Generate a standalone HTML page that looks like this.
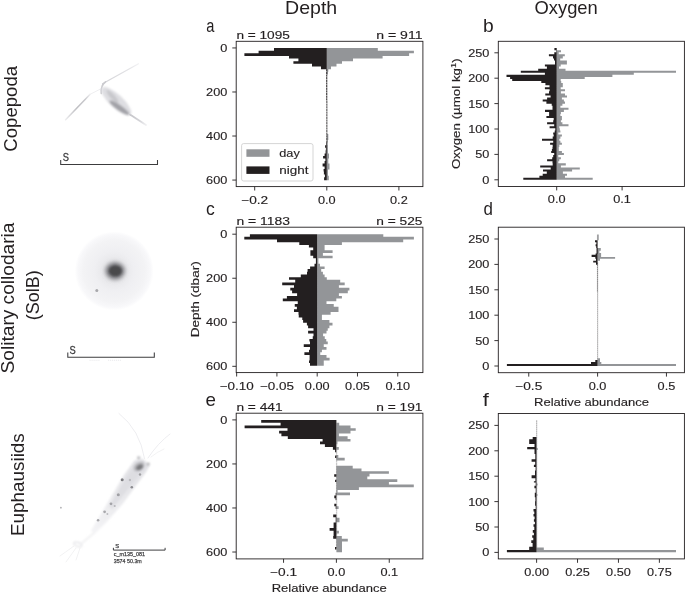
<!DOCTYPE html>
<html><head><meta charset="utf-8"><title>figure</title>
<style>html,body{margin:0;padding:0;background:#fff;}svg{display:block;}text{font-family:"Liberation Sans",sans-serif;}</style>
</head><body>
<svg width="685" height="592" viewBox="0 0 685 592">
<defs>
<radialGradient id="halo"><stop offset="0" stop-color="#d8d8d8"/><stop offset="0.55" stop-color="#ececec"/><stop offset="0.9" stop-color="#f4f4f4"/><stop offset="1" stop-color="#ffffff"/></radialGradient>
<radialGradient id="core"><stop offset="0" stop-color="#4a4a4a"/><stop offset="0.55" stop-color="#6a6a6a"/><stop offset="1" stop-color="#cfcfcf" stop-opacity="0"/></radialGradient>
<filter id="b1" x="-30%" y="-30%" width="160%" height="160%"><feGaussianBlur stdDeviation="1"/></filter>
<filter id="b2" x="-30%" y="-30%" width="160%" height="160%"><feGaussianBlur stdDeviation="2"/></filter>
<filter id="b05" x="-30%" y="-30%" width="160%" height="160%"><feGaussianBlur stdDeviation="0.6"/></filter>
<filter id="noop" x="0" y="0" width="685" height="592" filterUnits="userSpaceOnUse"><feOffset dx="0" dy="0"/></filter>
</defs>
<rect width="685" height="592" fill="#fff"/>
<g filter="url(#noop)">
<g id="bars-a">
<path d="M326.80,48.00H377.80V50.65H413.90V53.29H409.10V55.94H382.60V58.58H353.00V61.23H342.00V63.87H336.50V66.52H331.00V69.16H328.30V71.81H328.00V74.45H326.80ZM326.80,134.00H328.30V140.00H327.80V145.00H328.00V153.40H329.00V158.40H328.30V163.50H329.50V169.60H328.00V175.70H328.80V180.20H326.80Z" fill="#939598"/>
<path d="M326.80,48.00H274.00V50.65H258.60V53.29H244.40V55.94H289.00V58.58H298.40V61.23H293.40V63.87H312.00V66.52H321.00V69.16H326.80ZM326.80,142.20H326.10V145.30H325.10V147.80H325.90V150.30H325.60V153.40H324.60V155.90H323.10V158.40H325.40V161.00H324.60V163.50H322.60V166.50H324.60V169.10H323.60V171.60H323.90V174.60H324.90V177.20H324.10V180.20H326.80Z" fill="#231f20"/>
</g>
<g id="bars-c">
<path d="M317.20,234.15H383.30V236.84H413.90V239.52H403.20V242.21H341.90V244.89H324.60V247.58H324.60V250.27H332.60V252.95H322.90V255.64H332.60V258.32H318.40V261.01H318.40V263.70H320.00V266.38H324.60V269.07H321.20V271.75H322.90V274.44H324.60V277.13H326.80V279.81H340.20V282.50H344.70V285.18H338.90V287.87H349.40V290.56H347.80V293.24H338.90V295.93H341.90V298.61H336.30V301.30H326.50V303.99H333.75V306.67H338.50V309.36H338.50V312.04H330.60V314.73H321.90V317.42H321.90V320.10H329.40V322.79H332.50V325.47H329.40V328.16H327.75V330.85H326.50V333.53H323.10V336.22H324.75V338.90H326.25V341.59H327.75V344.28H323.75V346.96H326.50V349.65H321.90V352.33H320.25V355.02H326.50V357.71H329.60V360.39H323.75V363.08H323.75V365.76H317.20Z" fill="#939598"/>
<path d="M317.20,234.15H249.90V236.84H244.30V239.52H277.00V242.21H299.30V244.89H308.90V247.58H313.20V250.27H310.40V252.95H310.40V255.64H313.20V258.32H315.90V261.01H315.90V263.70H314.50V266.38H310.10V269.07H307.60V271.75H307.00V274.44H300.80V277.13H289.00V279.81H295.20V282.50H282.20V285.18H294.00V287.87H290.30V290.56H292.10V293.24H297.10V295.93H286.90V298.61H282.80V301.30H297.75V303.99H294.75V306.67H296.90V309.36H294.00V312.04H298.50V314.73H298.75V317.42H302.25V320.10H303.10V322.79H306.90V325.47H308.10V328.16H313.50V330.85H308.10V333.53H313.50V336.22H312.75V338.90H309.40V341.59H310.00V344.28H303.75V346.96H310.00V349.65H309.00V352.33H304.40V355.02H309.60V357.71H309.60V360.39H309.00V363.08H310.00V365.76H317.20Z" fill="#231f20"/>
</g>
<g id="bars-e">
<path d="M336.40,422.79H339.20V425.47H350.50V428.16H355.70V430.84H350.50V433.53H338.90V436.22H347.60V438.90H350.50V441.59H337.40V444.27H336.40ZM336.40,446.96H338.80V449.65H336.40ZM336.40,455.02H338.30V457.70H344.70V460.39H336.40ZM336.40,465.76H352.70V468.45H361.50V471.13H388.90V473.82H369.50V476.51H367.30V479.19H397.30V481.88H388.90V484.56H413.80V487.25H358.90V489.94H337.60V492.62H350.00V495.31H336.40ZM336.40,506.35H338.60V509.05H336.40ZM336.40,517.84H339.50V522.16H336.40ZM336.40,530.68H338.90V533.38H336.40ZM336.40,536.08H341.80V538.78H347.80V541.49H342.00V552.30H336.40Z" fill="#939598"/>
<path d="M336.40,420.10H261.20V422.79H280.60V425.47H244.60V428.16H287.50V430.84H279.10V433.53H281.40V436.22H287.80V438.90H322.60V441.59H320.00V444.27H324.90V446.96H332.90V449.65H335.10V452.33H336.40ZM336.40,455.60H335.10V457.90H336.40ZM336.40,474.30H334.20V476.80H336.40ZM336.40,479.80H335.10V482.00H336.40ZM336.40,492.84H335.70V495.54H334.30V498.24H335.60V500.27H336.40ZM336.40,503.65H334.30V506.35H335.70V509.05H336.40ZM336.40,514.46H333.20V517.16H335.70V522.57H333.60V527.97H329.60V530.68H333.60V536.08H333.20V538.78H336.40ZM336.40,546.89H335.00V549.59H336.40Z" fill="#231f20"/>
</g>
<g id="bars-b">
<path d="M556.70,48.10H556.90V50.16H561.00V52.22H558.70V54.27H564.80V56.33H562.80V58.39H560.20V60.45H566.90V62.51H566.90V64.56H560.70V66.62H559.00V68.68H565.50V70.74H676.00V72.80H633.80V74.85H612.40V76.91H584.70V78.97H560.70V81.03H561.20V83.09H562.80V85.14H562.80V87.20H560.70V89.26H565.00V91.32H560.90V93.38H565.00V95.43H567.00V97.49H561.90V99.55H563.90V101.61H565.00V103.67H562.40V105.72H560.40V107.78H568.50V109.84H563.90V111.90H560.90V113.96H560.40V116.01H561.90V118.07H561.90V120.13H560.90V122.19H562.40V124.25H568.50V126.30H559.30V128.36H559.80V130.42H560.40V132.48H558.30V134.54H561.90V136.59H560.40V138.65H559.30V140.71H560.40V142.77H561.90V144.83H559.30V146.88H558.80V148.94H558.80V151.00H561.90V153.06H563.90V155.12H558.30V157.17H560.90V159.23H559.30V161.29H558.30V163.35H565.80V165.41H560.90V167.46H579.80V169.52H572.10V171.58H562.90V173.64H567.00V175.70H565.00V177.75H592.70V179.81H556.70Z" fill="#939598"/>
<path d="M556.70,48.10H554.40V50.16H556.20V52.22H554.30V54.27H548.90V56.33H553.00V58.39H554.00V60.45H555.00V62.51H555.00V64.56H544.90V66.62H546.90V68.68H538.20V70.74H520.80V72.80H544.90V74.85H506.50V76.91H510.10V78.97H512.20V81.03H541.30V83.09H545.40V85.14H549.50V87.20H544.90V89.26H549.60V91.32H549.00V93.38H545.30V95.43H550.60V97.49H547.10V99.55H542.70V101.61H546.40V103.67H551.70V105.72H552.50V107.78H552.50V109.84H545.00V111.90H549.10V113.96H549.10V116.01H546.40V118.07H553.70V120.13H553.20V122.19H547.10V124.25H554.20V126.30H549.60V128.36H555.30V130.42H554.70V132.48H553.20V134.54H553.70V136.59H552.70V138.65H542.00V140.71H553.20V142.77H550.10V144.83H552.70V146.88H552.50V148.94H551.90V151.00H551.20V153.06H554.20V155.12H553.20V157.17H552.20V159.23H547.10V161.29H552.50V163.35H552.70V165.41H540.20V167.46H550.70V169.52H543.00V171.58H546.80V173.64H542.70V175.70H539.40V177.75H523.30V179.81H556.70Z" fill="#231f20"/>
</g>
<g id="bars-d">
<path d="M597.60,234.60H598.70V240.30H597.60ZM597.60,248.10H600.80V250.80H599.40V253.00H601.10V256.90H615.10V258.80H600.00V260.80H597.60ZM597.60,358.20H600.00V362.10H601.30V364.10H676.00V366.00H597.60Z" fill="#939598"/>
<path d="M597.60,240.30H595.00V242.20H596.40V244.20H595.60V246.20H596.20V248.10H596.60V253.40H595.60V254.70H591.60V256.90H595.30V258.80H596.00V260.80H593.20V262.60H596.00V264.80H597.60ZM597.60,360.10H595.30V362.10H591.00V364.10H506.90V366.00H597.60Z" fill="#231f20"/>
</g>
<g id="bars-f">
<path d="M536.60,448.00H537.70V450.00H536.60ZM536.60,483.50H537.60V485.50H536.60ZM536.60,494.00H537.40V496.00H536.60ZM536.60,547.60H543.80V550.00H676.00V552.20H536.60Z" fill="#939598"/>
<path d="M536.60,436.90H532.70V439.20H529.20V444.00H534.50V446.90H527.20V449.30H534.50V454.00H535.30V459.30H531.60V461.70H535.20V464.70H533.90V467.00H535.60V470.60H535.00V475.30H531.60V478.30H535.40V481.20H533.90V482.57H535.70V485.78H534.40V488.34H535.70V492.84H534.80V497.33H535.40V501.18H535.10V505.67H535.70V508.88H533.50V511.45H534.30V514.02H533.50V516.59H534.60V519.15H533.90V521.72H534.90V524.29H533.50V526.85H534.30V530.06H532.80V532.63H533.90V535.20H532.20V537.77H533.30V540.33H531.30V542.90H532.60V546.75H529.20V550.00H506.90V552.20H536.60Z" fill="#231f20"/>
</g>
<line x1="326.7" y1="69.16" x2="326.7" y2="100.9" stroke="#231f20" stroke-width="1.0" stroke-opacity="0.95" stroke-dasharray="2.2 0.445"/>
<line x1="326.8" y1="100.9" x2="326.8" y2="142.5" stroke="#231f20" stroke-width="0.8" stroke-opacity="1.0" stroke-dasharray="2.2 0.445"/>
<line x1="327.5" y1="72.0" x2="327.5" y2="134.0" stroke="#939598" stroke-width="0.4" stroke-opacity="0.7" stroke-dasharray="2.2 0.445"/>
<line x1="597.45" y1="234.6" x2="597.45" y2="240.3" stroke="#231f20" stroke-width="0.5" stroke-opacity="0.6"/>
<line x1="597.3" y1="248.0" x2="597.3" y2="254.0" stroke="#231f20" stroke-width="0.7" stroke-opacity="0.9"/>
<line x1="597.45" y1="262.6" x2="597.45" y2="292.0" stroke="#231f20" stroke-width="0.7" stroke-opacity="0.8" stroke-dasharray="1.7 0.35"/>
<line x1="597.5" y1="292.0" x2="597.5" y2="360.2" stroke="#231f20" stroke-width="0.5" stroke-opacity="0.62" stroke-dasharray="1.7 0.35"/>
<line x1="597.95" y1="262.0" x2="597.95" y2="358.0" stroke="#939598" stroke-width="0.4" stroke-opacity="0.7" stroke-dasharray="1.7 0.35"/>
<line x1="336.45" y1="452.0" x2="336.45" y2="548.0" stroke="#231f20" stroke-width="0.45" stroke-opacity="0.45" stroke-dasharray="2.3 0.4"/>
<line x1="336.9" y1="441.0" x2="336.9" y2="466.0" stroke="#939598" stroke-width="0.5" stroke-opacity="0.6" stroke-dasharray="2.3 0.4"/>
<line x1="336.9" y1="493.0" x2="336.9" y2="536.0" stroke="#939598" stroke-width="0.5" stroke-opacity="0.6" stroke-dasharray="2.3 0.4"/>
<line x1="536.5" y1="420.3" x2="536.5" y2="437.0" stroke="#231f20" stroke-width="0.5" stroke-opacity="0.55" stroke-dasharray="1.7 0.35"/>
<line x1="537.0" y1="420.3" x2="537.0" y2="548.0" stroke="#939598" stroke-width="0.45" stroke-opacity="0.7" stroke-dasharray="1.7 0.35"/>
<g id="axes-a">
<rect x="236.2" y="41.3" width="186.7" height="145.3" fill="none" stroke="#231f20" stroke-width="0.9"/>
<line x1="254.70" y1="186.6" x2="254.70" y2="190.5" stroke="#231f20" stroke-width="0.9"/>
<text x="254.7" y="203.5" font-size="11.3" text-anchor="middle" fill="#231f20" stroke="#231f20" stroke-width="0.15" textLength="27.0" lengthAdjust="spacingAndGlyphs">−0.2</text>
<line x1="326.80" y1="186.6" x2="326.80" y2="190.5" stroke="#231f20" stroke-width="0.9"/>
<text x="326.8" y="203.5" font-size="11.3" text-anchor="middle" fill="#231f20" stroke="#231f20" stroke-width="0.15" textLength="17.7" lengthAdjust="spacingAndGlyphs">0.0</text>
<line x1="398.90" y1="186.6" x2="398.90" y2="190.5" stroke="#231f20" stroke-width="0.9"/>
<text x="398.9" y="203.5" font-size="11.3" text-anchor="middle" fill="#231f20" stroke="#231f20" stroke-width="0.15" textLength="17.7" lengthAdjust="spacingAndGlyphs">0.2</text>
<line x1="232.29999999999998" y1="47.95" x2="236.2" y2="47.95" stroke="#231f20" stroke-width="0.9"/>
<text x="227.3" y="51.9" font-size="11.3" text-anchor="end" fill="#231f20" stroke="#231f20" stroke-width="0.15" textLength="7.1" lengthAdjust="spacingAndGlyphs">0</text>
<line x1="232.29999999999998" y1="91.99" x2="236.2" y2="91.99" stroke="#231f20" stroke-width="0.9"/>
<text x="227.3" y="95.94" font-size="11.3" text-anchor="end" fill="#231f20" stroke="#231f20" stroke-width="0.15" textLength="21.2" lengthAdjust="spacingAndGlyphs">200</text>
<line x1="232.29999999999998" y1="136.03" x2="236.2" y2="136.03" stroke="#231f20" stroke-width="0.9"/>
<text x="227.3" y="139.98" font-size="11.3" text-anchor="end" fill="#231f20" stroke="#231f20" stroke-width="0.15" textLength="21.2" lengthAdjust="spacingAndGlyphs">400</text>
<line x1="232.29999999999998" y1="180.07" x2="236.2" y2="180.07" stroke="#231f20" stroke-width="0.9"/>
<text x="227.3" y="184.02" font-size="11.3" text-anchor="end" fill="#231f20" stroke="#231f20" stroke-width="0.15" textLength="21.2" lengthAdjust="spacingAndGlyphs">600</text>
</g>
<g id="axes-c">
<rect x="236.2" y="227.2" width="186.7" height="145.40000000000003" fill="none" stroke="#231f20" stroke-width="0.9"/>
<line x1="236.65" y1="372.6" x2="236.65" y2="376.5" stroke="#231f20" stroke-width="0.9"/>
<text x="236.65" y="389.5" font-size="11.3" text-anchor="middle" fill="#231f20" stroke="#231f20" stroke-width="0.15" textLength="34.0" lengthAdjust="spacingAndGlyphs">−0.10</text>
<line x1="276.92" y1="372.6" x2="276.92" y2="376.5" stroke="#231f20" stroke-width="0.9"/>
<text x="276.92" y="389.5" font-size="11.3" text-anchor="middle" fill="#231f20" stroke="#231f20" stroke-width="0.15" textLength="34.0" lengthAdjust="spacingAndGlyphs">−0.05</text>
<line x1="317.20" y1="372.6" x2="317.20" y2="376.5" stroke="#231f20" stroke-width="0.9"/>
<text x="317.2" y="389.5" font-size="11.3" text-anchor="middle" fill="#231f20" stroke="#231f20" stroke-width="0.15" textLength="24.7" lengthAdjust="spacingAndGlyphs">0.00</text>
<line x1="357.48" y1="372.6" x2="357.48" y2="376.5" stroke="#231f20" stroke-width="0.9"/>
<text x="357.48" y="389.5" font-size="11.3" text-anchor="middle" fill="#231f20" stroke="#231f20" stroke-width="0.15" textLength="24.7" lengthAdjust="spacingAndGlyphs">0.05</text>
<line x1="397.75" y1="372.6" x2="397.75" y2="376.5" stroke="#231f20" stroke-width="0.9"/>
<text x="397.75" y="389.5" font-size="11.3" text-anchor="middle" fill="#231f20" stroke="#231f20" stroke-width="0.15" textLength="24.7" lengthAdjust="spacingAndGlyphs">0.10</text>
<line x1="232.29999999999998" y1="234.20" x2="236.2" y2="234.20" stroke="#231f20" stroke-width="0.9"/>
<text x="227.3" y="238.15" font-size="11.3" text-anchor="end" fill="#231f20" stroke="#231f20" stroke-width="0.15" textLength="7.1" lengthAdjust="spacingAndGlyphs">0</text>
<line x1="232.29999999999998" y1="278.24" x2="236.2" y2="278.24" stroke="#231f20" stroke-width="0.9"/>
<text x="227.3" y="282.19" font-size="11.3" text-anchor="end" fill="#231f20" stroke="#231f20" stroke-width="0.15" textLength="21.2" lengthAdjust="spacingAndGlyphs">200</text>
<line x1="232.29999999999998" y1="322.28" x2="236.2" y2="322.28" stroke="#231f20" stroke-width="0.9"/>
<text x="227.3" y="326.23" font-size="11.3" text-anchor="end" fill="#231f20" stroke="#231f20" stroke-width="0.15" textLength="21.2" lengthAdjust="spacingAndGlyphs">400</text>
<line x1="232.29999999999998" y1="366.32" x2="236.2" y2="366.32" stroke="#231f20" stroke-width="0.9"/>
<text x="227.3" y="370.27" font-size="11.3" text-anchor="end" fill="#231f20" stroke="#231f20" stroke-width="0.15" textLength="21.2" lengthAdjust="spacingAndGlyphs">600</text>
</g>
<g id="axes-e">
<rect x="236.2" y="413.2" width="186.7" height="145.7" fill="none" stroke="#231f20" stroke-width="0.9"/>
<line x1="283.55" y1="558.9" x2="283.55" y2="562.8" stroke="#231f20" stroke-width="0.9"/>
<text x="283.55" y="575.8" font-size="11.3" text-anchor="middle" fill="#231f20" stroke="#231f20" stroke-width="0.15" textLength="27.0" lengthAdjust="spacingAndGlyphs">−0.1</text>
<line x1="336.40" y1="558.9" x2="336.40" y2="562.8" stroke="#231f20" stroke-width="0.9"/>
<text x="336.4" y="575.8" font-size="11.3" text-anchor="middle" fill="#231f20" stroke="#231f20" stroke-width="0.15" textLength="17.7" lengthAdjust="spacingAndGlyphs">0.0</text>
<line x1="389.25" y1="558.9" x2="389.25" y2="562.8" stroke="#231f20" stroke-width="0.9"/>
<text x="389.25" y="575.8" font-size="11.3" text-anchor="middle" fill="#231f20" stroke="#231f20" stroke-width="0.15" textLength="17.7" lengthAdjust="spacingAndGlyphs">0.1</text>
<line x1="232.29999999999998" y1="419.90" x2="236.2" y2="419.90" stroke="#231f20" stroke-width="0.9"/>
<text x="227.3" y="423.85" font-size="11.3" text-anchor="end" fill="#231f20" stroke="#231f20" stroke-width="0.15" textLength="7.1" lengthAdjust="spacingAndGlyphs">0</text>
<line x1="232.29999999999998" y1="463.94" x2="236.2" y2="463.94" stroke="#231f20" stroke-width="0.9"/>
<text x="227.3" y="467.89" font-size="11.3" text-anchor="end" fill="#231f20" stroke="#231f20" stroke-width="0.15" textLength="21.2" lengthAdjust="spacingAndGlyphs">200</text>
<line x1="232.29999999999998" y1="507.98" x2="236.2" y2="507.98" stroke="#231f20" stroke-width="0.9"/>
<text x="227.3" y="511.93" font-size="11.3" text-anchor="end" fill="#231f20" stroke="#231f20" stroke-width="0.15" textLength="21.2" lengthAdjust="spacingAndGlyphs">400</text>
<line x1="232.29999999999998" y1="552.02" x2="236.2" y2="552.02" stroke="#231f20" stroke-width="0.9"/>
<text x="227.3" y="555.97" font-size="11.3" text-anchor="end" fill="#231f20" stroke="#231f20" stroke-width="0.15" textLength="21.2" lengthAdjust="spacingAndGlyphs">600</text>
</g>
<g id="axes-b">
<rect x="498.3" y="41.3" width="186.09999999999997" height="145.2" fill="none" stroke="#231f20" stroke-width="0.9"/>
<line x1="556.70" y1="186.5" x2="556.70" y2="190.4" stroke="#231f20" stroke-width="0.9"/>
<text x="556.7" y="203.4" font-size="11.3" text-anchor="middle" fill="#231f20" stroke="#231f20" stroke-width="0.15" textLength="17.7" lengthAdjust="spacingAndGlyphs">0.0</text>
<line x1="622.10" y1="186.5" x2="622.10" y2="190.4" stroke="#231f20" stroke-width="0.9"/>
<text x="622.1" y="203.4" font-size="11.3" text-anchor="middle" fill="#231f20" stroke="#231f20" stroke-width="0.15" textLength="17.7" lengthAdjust="spacingAndGlyphs">0.1</text>
<line x1="494.40000000000003" y1="179.80" x2="498.3" y2="179.80" stroke="#231f20" stroke-width="0.9"/>
<text x="489.4" y="183.75" font-size="11.3" text-anchor="end" fill="#231f20" stroke="#231f20" stroke-width="0.15" textLength="7.1" lengthAdjust="spacingAndGlyphs">0</text>
<line x1="494.40000000000003" y1="154.40" x2="498.3" y2="154.40" stroke="#231f20" stroke-width="0.9"/>
<text x="489.4" y="158.35" font-size="11.3" text-anchor="end" fill="#231f20" stroke="#231f20" stroke-width="0.15" textLength="14.1" lengthAdjust="spacingAndGlyphs">50</text>
<line x1="494.40000000000003" y1="129.00" x2="498.3" y2="129.00" stroke="#231f20" stroke-width="0.9"/>
<text x="489.4" y="132.95" font-size="11.3" text-anchor="end" fill="#231f20" stroke="#231f20" stroke-width="0.15" textLength="21.2" lengthAdjust="spacingAndGlyphs">100</text>
<line x1="494.40000000000003" y1="103.60" x2="498.3" y2="103.60" stroke="#231f20" stroke-width="0.9"/>
<text x="489.4" y="107.55" font-size="11.3" text-anchor="end" fill="#231f20" stroke="#231f20" stroke-width="0.15" textLength="21.2" lengthAdjust="spacingAndGlyphs">150</text>
<line x1="494.40000000000003" y1="78.20" x2="498.3" y2="78.20" stroke="#231f20" stroke-width="0.9"/>
<text x="489.4" y="82.15" font-size="11.3" text-anchor="end" fill="#231f20" stroke="#231f20" stroke-width="0.15" textLength="21.2" lengthAdjust="spacingAndGlyphs">200</text>
<line x1="494.40000000000003" y1="52.80" x2="498.3" y2="52.80" stroke="#231f20" stroke-width="0.9"/>
<text x="489.4" y="56.75" font-size="11.3" text-anchor="end" fill="#231f20" stroke="#231f20" stroke-width="0.15" textLength="21.2" lengthAdjust="spacingAndGlyphs">250</text>
</g>
<g id="axes-d">
<rect x="498.3" y="227.2" width="186.09999999999997" height="145.5" fill="none" stroke="#231f20" stroke-width="0.9"/>
<line x1="528.75" y1="372.7" x2="528.75" y2="376.59999999999997" stroke="#231f20" stroke-width="0.9"/>
<text x="528.75" y="389.6" font-size="11.3" text-anchor="middle" fill="#231f20" stroke="#231f20" stroke-width="0.15" textLength="27.0" lengthAdjust="spacingAndGlyphs">−0.5</text>
<line x1="597.60" y1="372.7" x2="597.60" y2="376.59999999999997" stroke="#231f20" stroke-width="0.9"/>
<text x="597.6" y="389.6" font-size="11.3" text-anchor="middle" fill="#231f20" stroke="#231f20" stroke-width="0.15" textLength="17.7" lengthAdjust="spacingAndGlyphs">0.0</text>
<line x1="666.45" y1="372.7" x2="666.45" y2="376.59999999999997" stroke="#231f20" stroke-width="0.9"/>
<text x="666.45" y="389.6" font-size="11.3" text-anchor="middle" fill="#231f20" stroke="#231f20" stroke-width="0.15" textLength="17.7" lengthAdjust="spacingAndGlyphs">0.5</text>
<line x1="494.40000000000003" y1="366.00" x2="498.3" y2="366.00" stroke="#231f20" stroke-width="0.9"/>
<text x="489.4" y="369.95" font-size="11.3" text-anchor="end" fill="#231f20" stroke="#231f20" stroke-width="0.15" textLength="7.1" lengthAdjust="spacingAndGlyphs">0</text>
<line x1="494.40000000000003" y1="340.60" x2="498.3" y2="340.60" stroke="#231f20" stroke-width="0.9"/>
<text x="489.4" y="344.55" font-size="11.3" text-anchor="end" fill="#231f20" stroke="#231f20" stroke-width="0.15" textLength="14.1" lengthAdjust="spacingAndGlyphs">50</text>
<line x1="494.40000000000003" y1="315.20" x2="498.3" y2="315.20" stroke="#231f20" stroke-width="0.9"/>
<text x="489.4" y="319.15" font-size="11.3" text-anchor="end" fill="#231f20" stroke="#231f20" stroke-width="0.15" textLength="21.2" lengthAdjust="spacingAndGlyphs">100</text>
<line x1="494.40000000000003" y1="289.80" x2="498.3" y2="289.80" stroke="#231f20" stroke-width="0.9"/>
<text x="489.4" y="293.75" font-size="11.3" text-anchor="end" fill="#231f20" stroke="#231f20" stroke-width="0.15" textLength="21.2" lengthAdjust="spacingAndGlyphs">150</text>
<line x1="494.40000000000003" y1="264.40" x2="498.3" y2="264.40" stroke="#231f20" stroke-width="0.9"/>
<text x="489.4" y="268.35" font-size="11.3" text-anchor="end" fill="#231f20" stroke="#231f20" stroke-width="0.15" textLength="21.2" lengthAdjust="spacingAndGlyphs">200</text>
<line x1="494.40000000000003" y1="239.00" x2="498.3" y2="239.00" stroke="#231f20" stroke-width="0.9"/>
<text x="489.4" y="242.95" font-size="11.3" text-anchor="end" fill="#231f20" stroke="#231f20" stroke-width="0.15" textLength="21.2" lengthAdjust="spacingAndGlyphs">250</text>
</g>
<g id="axes-f">
<rect x="498.3" y="413.5" width="186.09999999999997" height="145.39999999999998" fill="none" stroke="#231f20" stroke-width="0.9"/>
<line x1="536.60" y1="558.9" x2="536.60" y2="562.8" stroke="#231f20" stroke-width="0.9"/>
<text x="536.6" y="575.8" font-size="11.3" text-anchor="middle" fill="#231f20" stroke="#231f20" stroke-width="0.15" textLength="24.7" lengthAdjust="spacingAndGlyphs">0.00</text>
<line x1="577.52" y1="558.9" x2="577.52" y2="562.8" stroke="#231f20" stroke-width="0.9"/>
<text x="577.52" y="575.8" font-size="11.3" text-anchor="middle" fill="#231f20" stroke="#231f20" stroke-width="0.15" textLength="24.7" lengthAdjust="spacingAndGlyphs">0.25</text>
<line x1="618.45" y1="558.9" x2="618.45" y2="562.8" stroke="#231f20" stroke-width="0.9"/>
<text x="618.45" y="575.8" font-size="11.3" text-anchor="middle" fill="#231f20" stroke="#231f20" stroke-width="0.15" textLength="24.7" lengthAdjust="spacingAndGlyphs">0.50</text>
<line x1="659.38" y1="558.9" x2="659.38" y2="562.8" stroke="#231f20" stroke-width="0.9"/>
<text x="659.38" y="575.8" font-size="11.3" text-anchor="middle" fill="#231f20" stroke="#231f20" stroke-width="0.15" textLength="24.7" lengthAdjust="spacingAndGlyphs">0.75</text>
<line x1="494.40000000000003" y1="552.40" x2="498.3" y2="552.40" stroke="#231f20" stroke-width="0.9"/>
<text x="489.4" y="556.35" font-size="11.3" text-anchor="end" fill="#231f20" stroke="#231f20" stroke-width="0.15" textLength="7.1" lengthAdjust="spacingAndGlyphs">0</text>
<line x1="494.40000000000003" y1="527.00" x2="498.3" y2="527.00" stroke="#231f20" stroke-width="0.9"/>
<text x="489.4" y="530.95" font-size="11.3" text-anchor="end" fill="#231f20" stroke="#231f20" stroke-width="0.15" textLength="14.1" lengthAdjust="spacingAndGlyphs">50</text>
<line x1="494.40000000000003" y1="501.60" x2="498.3" y2="501.60" stroke="#231f20" stroke-width="0.9"/>
<text x="489.4" y="505.55" font-size="11.3" text-anchor="end" fill="#231f20" stroke="#231f20" stroke-width="0.15" textLength="21.2" lengthAdjust="spacingAndGlyphs">100</text>
<line x1="494.40000000000003" y1="476.20" x2="498.3" y2="476.20" stroke="#231f20" stroke-width="0.9"/>
<text x="489.4" y="480.15" font-size="11.3" text-anchor="end" fill="#231f20" stroke="#231f20" stroke-width="0.15" textLength="21.2" lengthAdjust="spacingAndGlyphs">150</text>
<line x1="494.40000000000003" y1="450.80" x2="498.3" y2="450.80" stroke="#231f20" stroke-width="0.9"/>
<text x="489.4" y="454.75" font-size="11.3" text-anchor="end" fill="#231f20" stroke="#231f20" stroke-width="0.15" textLength="21.2" lengthAdjust="spacingAndGlyphs">200</text>
<line x1="494.40000000000003" y1="425.40" x2="498.3" y2="425.40" stroke="#231f20" stroke-width="0.9"/>
<text x="489.4" y="429.35" font-size="11.3" text-anchor="end" fill="#231f20" stroke="#231f20" stroke-width="0.15" textLength="21.2" lengthAdjust="spacingAndGlyphs">250</text>
</g>
<text x="236.4" y="38.8" font-size="11.3" text-anchor="start" fill="#231f20" stroke="#231f20" stroke-width="0.15" textLength="53.5" lengthAdjust="spacingAndGlyphs">n = 1095</text>
<text x="422.5" y="38.8" font-size="11.3" text-anchor="end" fill="#231f20" stroke="#231f20" stroke-width="0.15" textLength="46.2" lengthAdjust="spacingAndGlyphs">n = 911</text>
<text x="236.4" y="224.6" font-size="11.3" text-anchor="start" fill="#231f20" stroke="#231f20" stroke-width="0.15" textLength="53.5" lengthAdjust="spacingAndGlyphs">n = 1183</text>
<text x="422.5" y="224.6" font-size="11.3" text-anchor="end" fill="#231f20" stroke="#231f20" stroke-width="0.15" textLength="46.2" lengthAdjust="spacingAndGlyphs">n = 525</text>
<text x="236.4" y="410.5" font-size="11.3" text-anchor="start" fill="#231f20" stroke="#231f20" stroke-width="0.15" textLength="46.2" lengthAdjust="spacingAndGlyphs">n = 441</text>
<text x="422.5" y="410.5" font-size="11.3" text-anchor="end" fill="#231f20" stroke="#231f20" stroke-width="0.15" textLength="46.2" lengthAdjust="spacingAndGlyphs">n = 191</text>
<text x="285.0" y="13.75" font-size="17.8" text-anchor="start" fill="#231f20" textLength="52.2" lengthAdjust="spacingAndGlyphs">Depth</text>
<text x="534.5" y="13.75" font-size="17.8" text-anchor="start" fill="#231f20" textLength="63.3" lengthAdjust="spacingAndGlyphs">Oxygen</text>
<text transform="translate(206.23,31.75) scale(0.770,1)" x="0" y="0" font-size="19" fill="#231f20">a</text>
<text transform="translate(483.09,32.0) scale(1.011,1)" x="0" y="0" font-size="19" fill="#231f20">b</text>
<text transform="translate(205.88,215.3) scale(0.925,1)" x="0" y="0" font-size="19" fill="#231f20">c</text>
<text transform="translate(483.60,215.3) scale(0.890,1)" x="0" y="0" font-size="19" fill="#231f20">d</text>
<text transform="translate(205.61,405.5) scale(0.989,1)" x="0" y="0" font-size="19" fill="#231f20">e</text>
<text transform="translate(482.80,405.6) scale(1.150,1)" x="0" y="0" font-size="19" fill="#231f20">f</text>
<text x="329.2" y="591.5" font-size="11.3" text-anchor="middle" fill="#231f20" stroke="#231f20" stroke-width="0.15" textLength="115" lengthAdjust="spacingAndGlyphs">Relative abundance</text>
<text x="591.5" y="405.6" font-size="11.3" text-anchor="middle" fill="#231f20" stroke="#231f20" stroke-width="0.15" textLength="115" lengthAdjust="spacingAndGlyphs">Relative abundance</text>
<text x="199.2" y="299.3" font-size="11.3" text-anchor="middle" fill="#231f20" stroke="#231f20" stroke-width="0.15" textLength="76" lengthAdjust="spacingAndGlyphs" transform="rotate(-90 199.2 299.3)">Depth (dbar)</text>
<text x="460.2" y="113.7" font-size="11.3" text-anchor="middle" fill="#231f20" stroke="#231f20" stroke-width="0.15" textLength="110.6" lengthAdjust="spacingAndGlyphs" transform="rotate(-90 460.2 113.7)">Oxygen (µmol kg<tspan font-size="7.8" dy="-4.2">1</tspan><tspan dy="4.2">)</tspan></text>
<text x="17.3" y="151.7" font-size="18.8" text-anchor="start" fill="#231f20" textLength="85.8" lengthAdjust="spacingAndGlyphs" transform="rotate(-90 17.3 151.7)">Copepoda</text>
<text x="14.4" y="373.4" font-size="18.8" text-anchor="start" fill="#231f20" textLength="150.8" lengthAdjust="spacingAndGlyphs" transform="rotate(-90 14.4 373.4)">Solitary collodaria</text>
<text x="38.8" y="320.2" font-size="18.8" text-anchor="start" fill="#231f20" textLength="50" lengthAdjust="spacingAndGlyphs" transform="rotate(-90 38.8 320.2)">(SolB)</text>
<text x="24.3" y="536.0" font-size="18.8" text-anchor="start" fill="#231f20" textLength="102.8" lengthAdjust="spacingAndGlyphs" transform="rotate(-90 24.3 536.0)">Euphausiids</text>
<rect x="241.6" y="143.6" width="71.4" height="37.4" rx="2" ry="2" fill="#fff" fill-opacity="0.8" stroke="#d0d0d0" stroke-width="0.9"/>
<rect x="246.4" y="149.3" width="23.1" height="7.5" fill="#939598"/>
<rect x="246.4" y="166.4" width="23.1" height="7.5" fill="#231f20"/>
<text x="279.3" y="156.9" font-size="11.3" text-anchor="start" fill="#231f20" stroke="#231f20" stroke-width="0.15" textLength="20.5" lengthAdjust="spacingAndGlyphs">day</text>
<text x="279.3" y="174.0" font-size="11.3" text-anchor="start" fill="#231f20" stroke="#231f20" stroke-width="0.15" textLength="29.2" lengthAdjust="spacingAndGlyphs">night</text>
<defs>
<linearGradient id="ant1" gradientUnits="userSpaceOnUse" x1="65.6" y1="119.7" x2="89.9" y2="94.4"><stop offset="0" stop-color="#ececee"/><stop offset="0.45" stop-color="#bebec2"/><stop offset="0.8" stop-color="#c8c8cc"/><stop offset="1" stop-color="#ececee"/></linearGradient>
<linearGradient id="ant2" gradientUnits="userSpaceOnUse" x1="102.5" y1="83.8" x2="138.5" y2="63.7"><stop offset="0" stop-color="#d2d2d6"/><stop offset="0.7" stop-color="#e2e2e5"/><stop offset="1" stop-color="#f2f2f4"/></linearGradient>
<linearGradient id="tail1" gradientUnits="userSpaceOnUse" x1="130" y1="114.5" x2="146" y2="125"><stop offset="0" stop-color="#c4c4c8"/><stop offset="0.6" stop-color="#d4d4d8"/><stop offset="1" stop-color="#f0f0f2"/></linearGradient>
<radialGradient id="halo2"><stop offset="0" stop-color="#d8d8dc"/><stop offset="0.25" stop-color="#e7e7ea"/><stop offset="0.5" stop-color="#efeff2"/><stop offset="0.78" stop-color="#f3f3f5"/><stop offset="0.92" stop-color="#f8f8fa"/><stop offset="1" stop-color="#ffffff"/></radialGradient>
<linearGradient id="eub" gradientUnits="userSpaceOnUse" x1="142" y1="463" x2="92" y2="532"><stop offset="0" stop-color="#e0e0e4"/><stop offset="0.5" stop-color="#eaeaed"/><stop offset="1" stop-color="#f4f4f6"/></linearGradient>
</defs>
<g id="copepod">
<g filter="url(#b05)" fill="none" stroke-linecap="round">
<line x1="65.6" y1="119.7" x2="89.9" y2="94.4" stroke="url(#ant1)" stroke-width="1.5"/>
<line x1="102.5" y1="83.8" x2="138.5" y2="63.7" stroke="url(#ant2)" stroke-width="1.2"/>
<line x1="90" y1="94.4" x2="100.5" y2="89" stroke="#eeeef0" stroke-width="1"/>
<line x1="130" y1="114.5" x2="146" y2="125" stroke="url(#tail1)" stroke-width="1.8"/>
<path d="M101.3,93.5 Q100.5,85.5 105.5,81.8" stroke="#cacace" stroke-width="1.6"/>
</g>
<g filter="url(#b1)">
<ellipse cx="116.3" cy="101.2" rx="19.5" ry="6.6" transform="rotate(43 116.3 101.2)" fill="#dedee2"/>
<ellipse cx="119.3" cy="107.8" rx="12" ry="2.7" transform="rotate(35 119.3 107.8)" fill="#a2a2a7"/>
<ellipse cx="112.5" cy="96.5" rx="8.5" ry="2.4" transform="rotate(48 112.5 96.5)" fill="#c8c8cc"/>
</g>
<path d="M60.7,159.9 V164.5 H157.5 V159.9" fill="none" stroke="#3c3c3e" stroke-width="1.05"/>
<text x="62.8" y="160.7" font-size="10.6" fill="#3c3c3e" stroke="#3c3c3e" stroke-width="0.3" textLength="6.2" lengthAdjust="spacingAndGlyphs">S</text>
</g>
<g id="collodaria">
<circle cx="114.2" cy="270.9" r="39.5" fill="url(#halo2)"/>
<g filter="url(#b2)"><ellipse cx="115.1" cy="270.9" rx="9.6" ry="8.6" fill="#77777c"/></g>
<g filter="url(#b1)"><ellipse cx="115.3" cy="270.9" rx="6.4" ry="5.4" fill="#48484c"/></g>
<g filter="url(#b05)"><circle cx="96.8" cy="290.6" r="1.5" fill="#a8a8ac"/></g>
<path d="M67.8,352.4 V357.3 H154.3 V352.4" fill="none" stroke="#3c3c3e" stroke-width="1.05"/>
<text x="69.6" y="353.9" font-size="10.6" fill="#3c3c3e" stroke="#3c3c3e" stroke-width="0.3" textLength="6.2" lengthAdjust="spacingAndGlyphs">S</text>
<line x1="89.5" y1="360.3" x2="100" y2="360.3" stroke="#e6e6e8" stroke-width="0.8" stroke-dasharray="1.2 0.8"/>
<line x1="108" y1="360.3" x2="121" y2="360.3" stroke="#e6e6e8" stroke-width="0.8" stroke-dasharray="1.2 0.8"/>
</g>
<g id="euphausiid">
<g filter="url(#b1)">
<path d="M149.5,465.5 L146,472 L135,487 L122.5,504 L107,521.5 L94.5,534 L91,530.5 L101,514 L112.5,494.5 L124,475 L134.5,460.5 L143,459 Z" fill="url(#eub)"/>
<path d="M145,465 L142,471 L132,484 L122,497 L112,509 L109,506 L118,491 L128,475 L137,464 Z" fill="#dadade" fill-opacity="0.7"/>
<path d="M94,533 L82,543" stroke="#ececee" stroke-width="1.6" fill="none"/>
<ellipse cx="77.8" cy="544.4" rx="4.2" ry="2" transform="rotate(20 77.8 544.4)" fill="none" stroke="#dcdce0" stroke-width="1"/>
</g>
<g filter="url(#b05)" fill="none" stroke="#ebebee" stroke-width="0.9" stroke-linecap="round">
<path d="M144.5,458.5 Q140,430 119,413.5"/>
<path d="M148,458 Q158,443 170,434"/>
<path d="M151,457 Q157,452 164,449" stroke="#f0f0f2"/>
<path d="M74,546 L60,556 M76,548 L66,562 M80,548 L76,560" stroke="#f0f0f2"/>
</g>
<g filter="url(#b1)">
<ellipse cx="139.6" cy="467.2" rx="3.6" ry="2.4" transform="rotate(-35 139.6 467.2)" fill="#505054"/>
<ellipse cx="139" cy="466.5" rx="6" ry="4" transform="rotate(-35 139 466.5)" fill="#9a9a9e" fill-opacity="0.55"/>
<circle cx="138.7" cy="457.8" r="1.6" fill="#b4b4b8"/>
<circle cx="148.2" cy="464" r="1.5" fill="#b0b0b4"/>
</g>
<g filter="url(#b05)">
<circle cx="122.2" cy="479.8" r="1.5" fill="#7c7c80"/>
<circle cx="131.8" cy="487.3" r="1.3" fill="#8c8c90"/>
<circle cx="129.9" cy="480" r="1.2" fill="#bcbcc0"/>
<circle cx="118.3" cy="494.8" r="1.5" fill="#a0a0a4"/>
<circle cx="111" cy="503.8" r="1.4" fill="#a4a4a8"/>
<circle cx="114.7" cy="506" r="1.1" fill="#b8b8bc"/>
<circle cx="104.6" cy="511.8" r="1.4" fill="#a8a8ac"/>
<circle cx="107.4" cy="514" r="1.0" fill="#bcbcc0"/>
<circle cx="98.1" cy="520.2" r="1.3" fill="#a8a8ac"/>
<circle cx="60.9" cy="507.7" r="0.9" fill="#b0b0b4"/>
<circle cx="140" cy="474.5" r="1.2" fill="#a0a0a4"/>
</g>
<path d="M113.4,547.8 V550.1 H165.1 V547.8" fill="none" stroke="#3e3e40" stroke-width="1.0"/>
<text x="115.2" y="548.2" font-size="5.8" fill="#3e3e40" stroke="#3e3e40" stroke-width="0.25">S</text>
<text x="113.7" y="556.1" font-size="6" fill="#3e3e40" stroke="#3e3e40" stroke-width="0.25" textLength="31.2" lengthAdjust="spacingAndGlyphs">c_m135_081</text>
<text x="113.7" y="562.5" font-size="6" fill="#3e3e40" stroke="#3e3e40" stroke-width="0.25" textLength="28.1" lengthAdjust="spacingAndGlyphs">3574 50.3m</text>
</g>
</g>
</svg>
</body></html>
